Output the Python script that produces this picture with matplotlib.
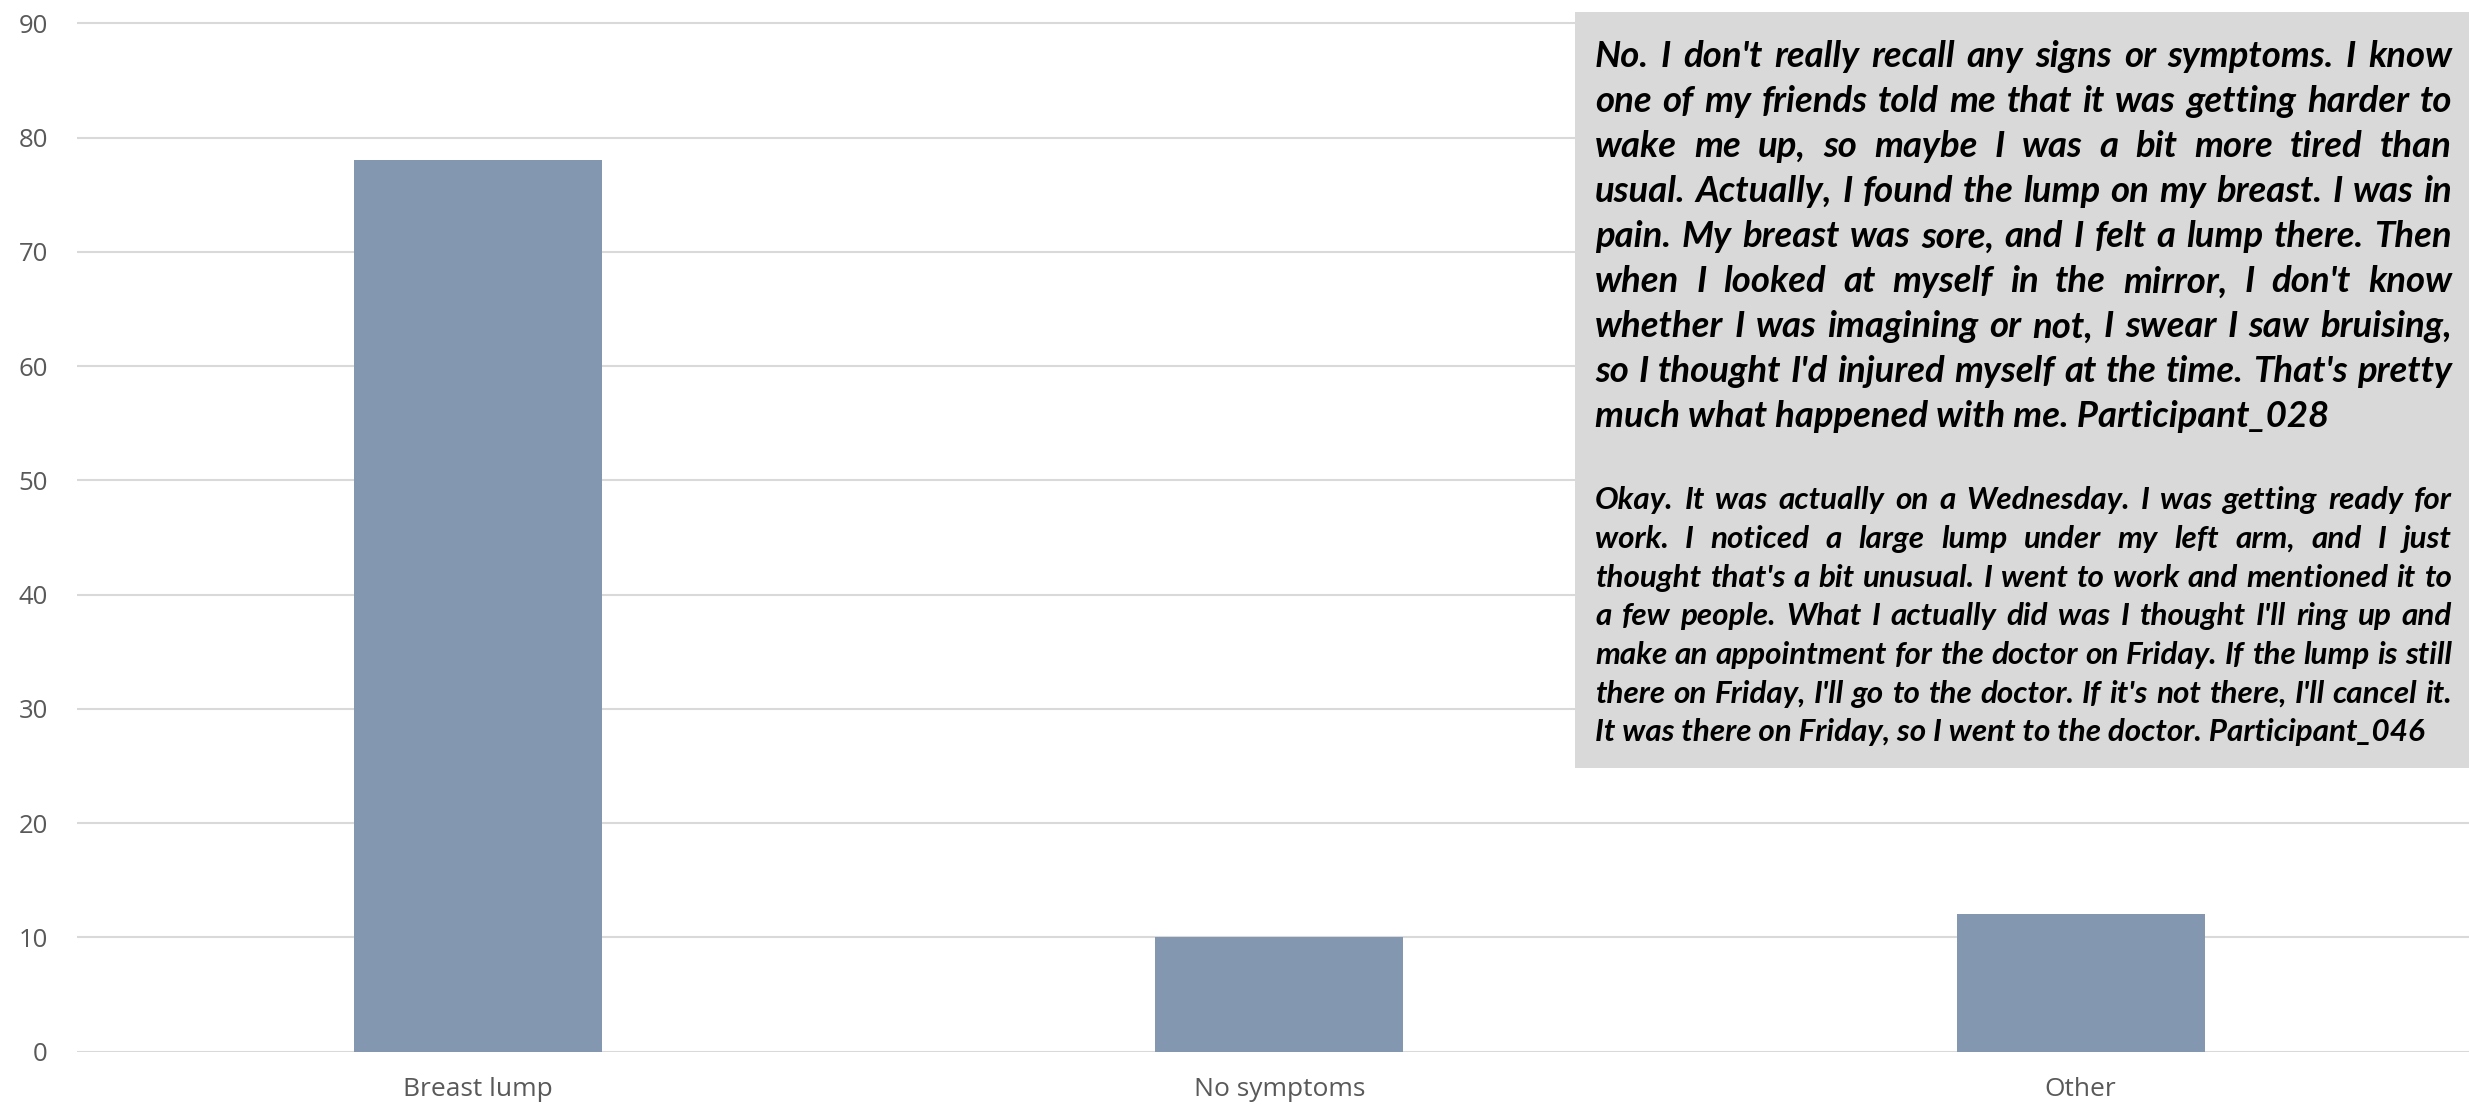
import matplotlib
matplotlib.use('Agg')
import matplotlib.pyplot as plt
from matplotlib.patches import Rectangle
from matplotlib.font_manager import FontProperties

plt.rcParams['font.family'] = ['Open Sans', 'DejaVu Sans']

# symptom counts
categories = ['Breast lump', 'No symptoms', 'Other']
counts = [78, 10, 12]
y_ticks = [0, 10, 20, 30, 40, 50, 60, 70, 80, 90]

# quotes, one entry per printed line
quote_028 = [
    "No. I don't really recall any signs or symptoms. I know",
    "one of my friends told me that it was getting harder to",
    "wake me up, so maybe I was a bit more tired than",
    "usual. Actually, I found the lump on my breast. I was in",
    "pain. My breast was sore, and I felt a lump there. Then",
    "when I looked at myself in the mirror, I don't know",
    "whether I was imagining or not, I swear I saw bruising,",
    "so I thought I'd injured myself at the time. That's pretty",
    "much what happened with me. Participant_028",
]
quote_046 = [
    "Okay. It was actually on a Wednesday. I was getting ready for",
    "work. I noticed a large lump under my left arm, and I just",
    "thought that's a bit unusual. I went to work and mentioned it to",
    "a few people. What I actually did was I thought I'll ring up and",
    "make an appointment for the doctor on Friday. If the lump is still",
    "there on Friday, I'll go to the doctor. If it's not there, I'll cancel it.",
    "It was there on Friday, so I went to the doctor. Participant_046",
]

W, H = 2469, 1104
fig = plt.figure(figsize=(W / 100, H / 100), dpi=100)

# axes in pixel terms: y=0 line at 1051.5px, 10 units ~ 114.2px
y0_px, y90_px = 1051.5, 23.3
ppu = (y0_px - y90_px) / 90
ax = fig.add_axes([77 / W, (H - y0_px) / H, 1 - 77 / W, 90.5 * ppu / H])

ax.bar(range(len(categories)), counts, width=0.31, color='#8497B0', zorder=2)
ax.set_xlim(-0.5, -0.5 + (W - 77) / 801.5)
ax.set_ylim(0, 90.5)
ax.set_yticks(y_ticks)
ax.set_xticks(range(len(categories)))
ax.set_xticklabels(categories)
ax.grid(axis='y', color='#D9D9D9', lw=1.5, zorder=0)
ax.grid(axis='x', visible=False)
ax.set_axisbelow(True)
for s in ax.spines.values():
    s.set_visible(False)
ax.tick_params(axis='y', length=0, labelsize=18.5, labelcolor='#595959', pad=21)
ax.tick_params(axis='x', length=0, labelsize=19, labelcolor='#595959', pad=18)

# grey quote box on top of the chart
fig.add_artist(Rectangle((1575 / W, (H - 767.7) / H), 1, (767.7 - 12) / H,
                         transform=fig.transFigure, facecolor='#D9D9D9',
                         edgecolor='none', zorder=5))

renderer = fig.canvas.get_renderer()
L, R = 1595, 2452


def text_w(s, prop):
    return renderer.get_text_width_height_descent(s, prop, ismath=False)[0]


def quote_block(lines, last_width, first_baseline, step):
    prop = FontProperties(family='Lato', weight='bold', style='italic', size=20)
    size = 20 * last_width / text_w(lines[-1], prop)
    prop = FontProperties(family='Lato', weight='bold', style='italic', size=size)
    for i, line in enumerate(lines):
        y = 1 - (first_baseline + i * step) / H
        if i == len(lines) - 1:
            fig.text(L / W, y, line, fontproperties=prop, va='baseline',
                     color='black', zorder=6)
            continue
        # justified line: spread words across the full width
        words = line.split()
        widths = [text_w(w, prop) for w in words]
        gap = (R - L - sum(widths)) / (len(words) - 1)
        x = L
        for w, wd in zip(words, widths):
            fig.text(x / W, y, w, fontproperties=prop, va='baseline',
                     color='black', zorder=6)
            x += wd + gap


quote_block(quote_028, 733, 67.3, 45.0)
quote_block(quote_046, 829, 509.3, 38.7)

fig.savefig('out.png', dpi=100)
